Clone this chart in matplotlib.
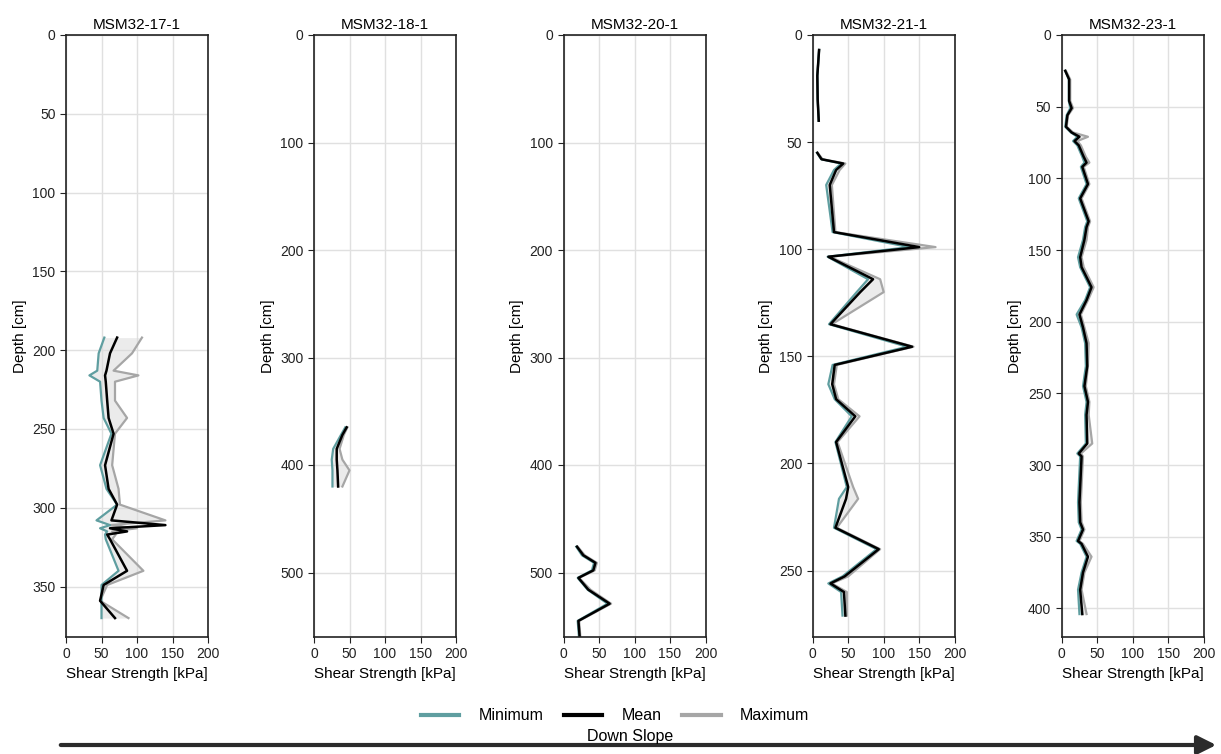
import matplotlib
matplotlib.use("Agg")
import matplotlib.pyplot as plt
from matplotlib.lines import Line2D
from matplotlib.patches import FancyArrowPatch
import numpy as np

plt.rcParams['font.family'] = ['Liberation Sans', 'DejaVu Sans']

# Shear strength profiles (depth in cm, strength in kPa)
cores = ["MSM32-17-1", "MSM32-18-1", "MSM32-20-1", "MSM32-21-1", "MSM32-23-1"]

depth_17 = [192, 202, 213, 216, 220, 232, 243, 253, 273, 288, 298, 308, 311, 313, 315, 317, 320, 340, 349, 359, 370]
min_17 = [54, 46, 44, 33, 48, 50, 53, 64, 48, 57, 72, 43, 62, 48, 58, 55, 56, 74, 50, 50, 50]
mean_17 = [72, 62, 57, 55, 56, 58, 60, 67, 55, 60, 72, 64, 140, 62, 86, 58, 62, 86, 53, 48, 69]
max_17 = [107, 93, 67, 102, 69, 69, 86, 69, 65, 74, 76, 140, 62, 100, 65, 70, 65, 109, 58, 48, 88]

depth_18 = [365, 372, 385, 395, 405, 420]
min_18 = [44, 38, 27, 25, 26, 26]
mean_18 = [46, 40, 32, 32, 33, 34]
max_18 = [47, 42, 36, 40, 50, 40]

depth_20 = [476, 484, 491, 498, 505, 516, 529, 545, 562]
min_20 = [18, 26, 43, 40, 20, 34, 62, 20, 22]
mean_20 = [19, 28, 45, 42, 21, 35, 65, 21, 23]
max_20 = [20, 30, 47, 44, 22, 38, 67, 22, 24]

nan = np.nan
depth_21 = [7, 19, 30, 40, nan, 55, 58, 60, 63, 70, 92, 99, 103.5, 114, 120, 135, 145.5, 154, 163, 170,
            178, 190, 211, 216.5, 230, 240, 252.7, 256, 260, 271]
min_21 = [9, 6.5, 7, 8.5, nan, 6, 12, 40, 30, 19, 28, 136, 21, 78, 62, 23, 133, 28, 22, 31,
          55, 32, 48, 37, 30, 90, 42, 22, 40, 42]
mean_21 = [9, 6.5, 7, 8.5, nan, 6.5, 12.5, 43, 33, 24, 30, 150, 22, 85, 67, 25, 140, 31, 27.5, 33,
           60, 33, 50, 47, 32, 93, 45, 25, 44, 46]
max_21 = [9, 6.5, 7, 8.5, nan, 7, 14, 46, 38, 27, 32, 173, 24, 95, 100, 27, 142, 34, 30, 36,
          66, 35, 57, 64, 34, 95, 50, 27, 48, 48]

depth_23 = [25, 31, 46, 51, 56, 64, 68, 71, 74, 77, 85, 89, 92, 104, 114, 130, 134, 143, 155, 162,
            176, 185, 195, 204, 215, 231, 245, 256, 265, 285, 292, 294, 315, 326, 340, 345, 353, 355,
            364, 375, 387, 404]
min_23 = [5, 10, 10, 12, 7, 5, 13, 22, 16, 22, 29, 32, 27, 35, 24, 36, 33, 30, 23, 26,
          40, 33, 21, 28, 33, 34, 30, 35, 33, 34, 22, 26, 24, 23, 24, 28, 21, 26, 35, 28, 23, 25]
mean_23 = [5, 10.5, 10.5, 14, 8, 6, 14, 25, 18, 24, 31, 35, 29, 37, 26, 38, 35, 32, 26, 28,
           42, 35, 25, 30, 35, 36, 32, 37, 35, 36, 24, 28, 26, 25, 26, 30, 23, 28, 37, 30, 26, 29]
max_23 = [6, 12, 12, 16, 9, 7, 16, 37, 22, 27, 34, 39, 31, 39, 28, 40, 37, 35, 28, 31,
          45, 37, 27, 32, 38, 37, 34, 39, 38, 43, 27, 30, 28, 27, 28, 32, 25, 30, 42, 32, 28, 35]

depths = [depth_17, depth_18, depth_20, depth_21, depth_23]
mins = [min_17, min_18, min_20, min_21, min_23]
means = [mean_17, mean_18, mean_20, mean_21, mean_23]
maxs = [max_17, max_18, max_20, max_21, max_23]
max_depth = [382, 560, 560, 281, 420]

c_min = "#5f9ea0"
c_mean = "black"
c_max = "#a6a6a6"

W, H = 1221, 754
fig = plt.figure(figsize=(W / 100, H / 100), dpi=100)

lefts = [66, 314, 563.5, 812.7, 1061.7]
top_px, bot_px, w_px = 35, 637, 142

for i, name in enumerate(cores):
    ax = fig.add_axes([lefts[i] / W, 1 - bot_px / H, w_px / W, (bot_px - top_px) / H])
    d = np.array(depths[i], dtype=float)
    lo = np.array(mins[i], dtype=float)
    mu = np.array(means[i], dtype=float)
    hi = np.array(maxs[i], dtype=float)
    ax.fill_betweenx(d, lo, hi, color="#d9d9d9", alpha=0.5, linewidth=0)
    ax.plot(hi, d, color=c_max, lw=1.6)
    ax.plot(lo, d, color=c_min, lw=1.6)
    ax.plot(mu, d, color=c_mean, lw=1.8)
    ax.set_xlim(0, 200)
    ax.set_ylim(max_depth[i], 0)
    ax.set_xticks([0, 50, 100, 150, 200])
    ax.grid(True, color="#e0e0e0", linewidth=1)
    ax.set_axisbelow(True)
    for s in ax.spines.values():
        s.set_color("#222222")
        s.set_linewidth(1.2)
    ax.tick_params(labelsize=10, color="#222222", labelcolor="#222222", length=4)
    ax.set_title(name, fontsize=11, pad=4)
    ax.set_xlabel("Shear Strength [kPa]", fontsize=11)
    ax.set_ylabel("Depth [cm]", fontsize=11)

handles = [Line2D([], [], color=c_min, lw=3),
           Line2D([], [], color=c_mean, lw=3),
           Line2D([], [], color=c_max, lw=3)]
fig.legend(handles, ["Minimum", "Mean", "Maximum"], loc="center",
           bbox_to_anchor=(615 / W, 1 - 716 / H), ncol=3, frameon=False,
           fontsize=11.5, handlelength=2.4, handletextpad=1.2, columnspacing=1.3)

fig.text(630 / W, 1 - 736 / H, "Down Slope", ha="center", va="center", fontsize=11.5)
arrow = FancyArrowPatch((58 / W, 1 - 745 / H), (1219 / W, 1 - 745 / H),
                        transform=fig.transFigure, arrowstyle="-|>", mutation_scale=28,
                        lw=3, color="#2b2b2b")
fig.add_artist(arrow)

fig.savefig("out.png", dpi=100)
